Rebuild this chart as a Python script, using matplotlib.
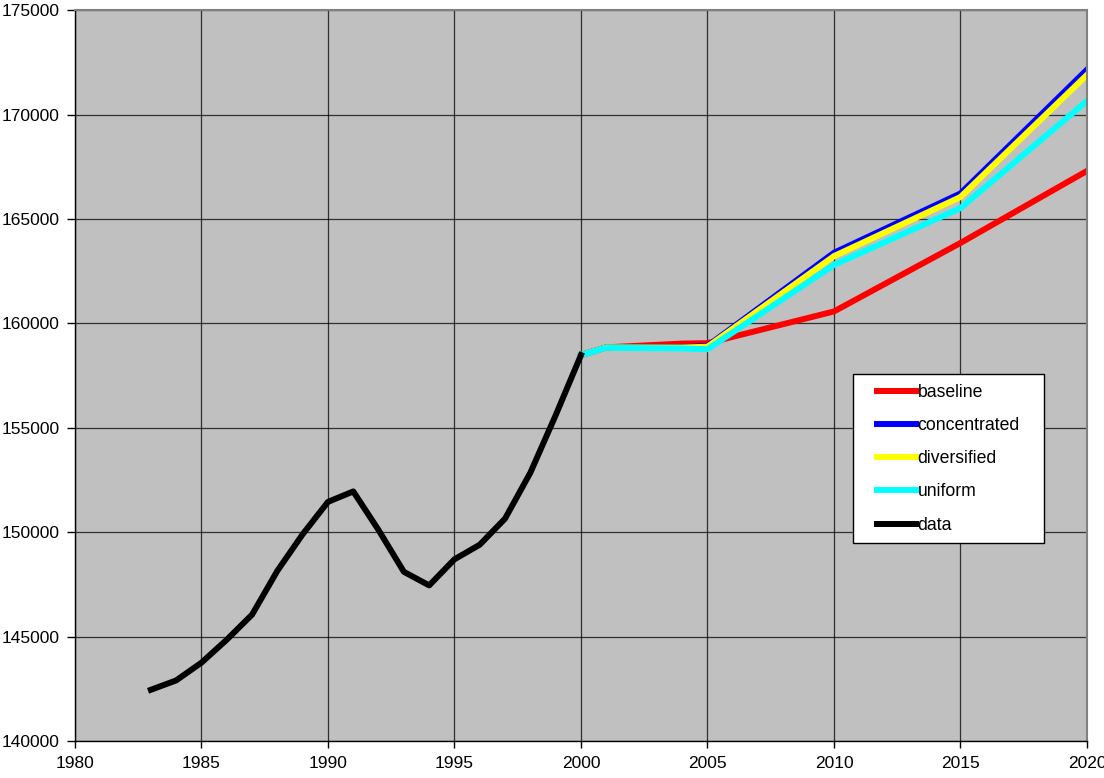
import numpy as np
import matplotlib.pyplot as plt
from matplotlib.lines import Line2D
from matplotlib.legend_handler import HandlerLine2D

plt.rcParams['font.family'] = ['Liberation Sans', 'DejaVu Sans']

# historical data (annual)
data_years = [1983, 1984, 1985, 1986, 1987, 1988, 1989, 1990, 1991, 1992,
              1993, 1994, 1995, 1996, 1997, 1998, 1999, 2000]
data_vals = [142450, 142900, 143750, 144850, 146050, 148150, 149900, 151450,
             151950, 150100, 148100, 147450, 148700, 149400, 150650, 152850,
             155600, 158480]

# projections
proj_years = [2000, 2001, 2004, 2005, 2010, 2015, 2020]
baseline = [158480, 158850, 159030, 159050, 160570, 163850, 167300]
concentrated = [158480, 158850, 158850, 158920, 163380, 166220, 172150]
diversified = [158480, 158850, 158840, 158880, 163220, 166050, 171900]
uniform = [158480, 158830, 158800, 158760, 162800, 165520, 170650]

fig = plt.figure(figsize=(11.04, 7.78), dpi=100)
ax = fig.add_axes([0.0679, 0.0476, 0.9167, 0.9394])
ax.set_facecolor('#C0C0C0')

lw = 4.3
ax.plot(proj_years, baseline, color='#FF0000', lw=lw, label='baseline', solid_joinstyle='round')
ax.plot(proj_years, concentrated, color='#0000FF', lw=lw, label='concentrated', solid_joinstyle='round')
ax.plot(proj_years, diversified, color='#FFFF00', lw=lw, label='diversified', solid_joinstyle='round')
ax.plot(proj_years, uniform, color='#00FFFF', lw=lw, label='uniform', solid_joinstyle='round')
ax.plot(data_years, data_vals, color='#000000', lw=lw, label='data', solid_joinstyle='round')

ax.set_xlim(1980, 2020)
ax.set_ylim(140000, 175000)
ax.set_xticks(np.arange(1980, 2021, 5))
ax.set_yticks(np.arange(140000, 175001, 5000))
ax.grid(True, color='#000000', lw=0.9, alpha=0.75)
ax.set_axisbelow(True)

ax.tick_params(axis='y', direction='out', length=6, width=1, labelsize=12.5, pad=5)
ax.tick_params(axis='x', direction='out', length=5, width=1, labelsize=12.5, pad=6)
for s in ['left', 'bottom']:
    ax.spines[s].set_color('black')
    ax.spines[s].set_linewidth(1)
for s in ['top', 'right']:
    ax.spines[s].set_color('#808080')
    ax.spines[s].set_linewidth(1.5)

leg = ax.legend(loc='upper left', bbox_to_anchor=(0.769, 0.271, 0.189, 0.231),
                mode='expand', fontsize=12.7, frameon=True, fancybox=False,
                edgecolor='black', framealpha=1, borderpad=0.55,
                handlelength=3.0, handletextpad=0.1, labelspacing=0.92,
                borderaxespad=0,
                handler_map={Line2D: HandlerLine2D(xpad=0.8)})
leg.get_frame().set_linewidth(1)

plt.savefig('out.png', dpi=100)
